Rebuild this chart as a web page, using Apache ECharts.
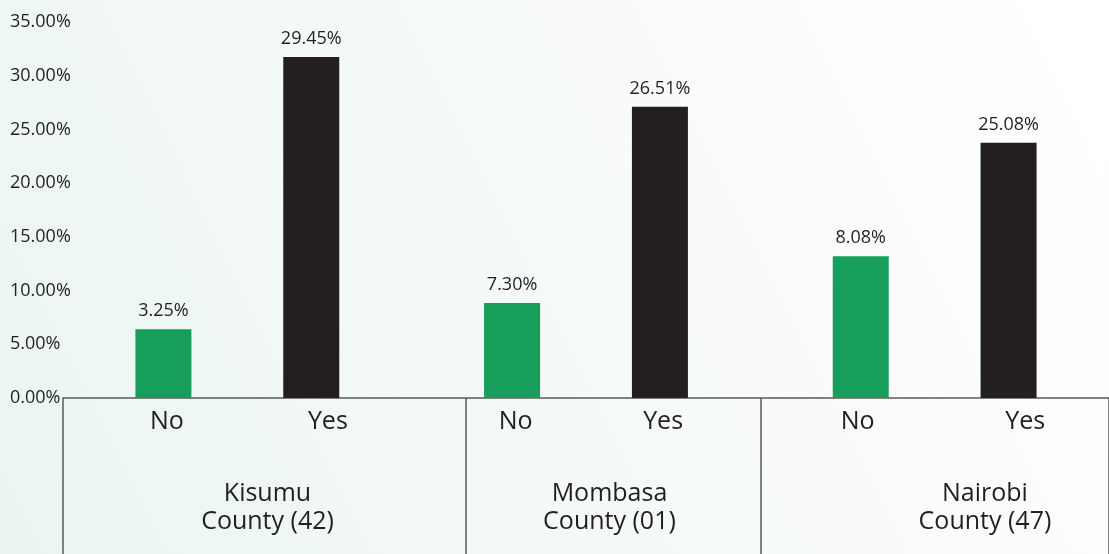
<!DOCTYPE html>
<html>
<head>
<meta charset="utf-8">
<script src="https://cdn.jsdelivr.net/npm/echarts@6/dist/echarts.min.js"></script>
<style>
html,body{margin:0;padding:0;}
#chart{width:1109px;height:554px;}
</style>
</head>
<body>
<div id="chart"></div>
<script>
// ---- data ----
const groups = ['Kisumu\nCounty (42)', 'Mombasa\nCounty (01)', 'Nairobi\nCounty (47)'];
const answers = ['No', 'Yes'];
// bar heights as drawn (percent)
const noValues = [6.4, 8.85, 13.2];
const yesValues = [31.75, 27.1, 23.75];
// printed value labels
const noLabels = ['3.25%', '7.30%', '8.08%'];
const yesLabels = ['29.45%', '26.51%', '25.08%'];
const yTicks = [0, 5, 10, 15, 20, 25, 30, 35];

// ---- layout of the lower category band (slot units) ----
const slotLayout = {
  groupSpans: [60, 44, 52],
  groupLabelSlot: [30, 81, 137],
  noSlot: [15, 67, 118],
  yesSlot: [39, 89, 143]
};
const totalSlots = slotLayout.groupSpans.reduce((a, b) => a + b, 0);
const slotText = new Array(totalSlots).fill('');
const slotKind = new Array(totalSlots).fill('');
groups.forEach((g, i) => {
  slotText[slotLayout.groupLabelSlot[i]] = g; slotKind[slotLayout.groupLabelSlot[i]] = 'g';
  slotText[slotLayout.noSlot[i]] = answers[0]; slotKind[slotLayout.noSlot[i]] = 'a';
  slotText[slotLayout.yesSlot[i]] = answers[1]; slotKind[slotLayout.yesSlot[i]] = 'a';
});
const boundaries = [0];
slotLayout.groupSpans.reduce((acc, s) => { boundaries.push(acc + s); return acc + s; }, 0);

const font = 'Open Sans';
const textColor = '#231f20';
const lineColor = '#5a5a5a';

const chart = echarts.init(document.getElementById('chart'));
chart.setOption({
  backgroundColor: {
    type: 'linear', x: 0, y: 1, x2: 1, y2: 0,
    colorStops: [{offset: 0, color: '#eaf5f0'}, {offset: 0.6, color: '#f8fbfa'}, {offset: 1, color: '#ffffff'}]
  },
  textStyle: {fontFamily: font},
  animation: false,
  grid: {left: 63, right: 0, top: 22, bottom: 156, containLabel: false},
  xAxis: [
    {
      type: 'category', data: groups, show: false
    },
    {
      type: 'category', data: slotText, position: 'bottom',
      axisLine: {show: true, lineStyle: {color: lineColor, width: 1.5}},
      axisTick: {
        show: true, length: 160, alignWithLabel: false,
        interval: (idx) => boundaries.indexOf(idx) >= 0,
        lineStyle: {color: lineColor, width: 1.5}
      },
      axisLabel: {
        interval: 0, margin: 9, color: textColor, fontFamily: font,
        formatter: (value, idx) => {
          if (slotKind[idx] === 'a') return '{a|' + value + '}';
          if (slotKind[idx] === 'g') return '{gap| }\n' + value.split('\n').map(s => '{g|' + s + '}').join('\n');
          return '';
        },
        rich: {
          a: {fontSize: 25, lineHeight: 30, color: textColor, fontFamily: font},
          gap: {fontSize: 10, lineHeight: 73},
          g: {fontSize: 25, lineHeight: 28, color: textColor, fontFamily: font}
        }
      },
      splitLine: {show: false}
    }
  ],
  yAxis: {
    type: 'value', min: 0, max: 35, interval: 5,
    axisLine: {show: false}, axisTick: {show: false}, splitLine: {show: false},
    axisLabel: {
      align: 'left', margin: 53, color: textColor, fontSize: 18, fontFamily: font,
      formatter: (v) => yTicks.indexOf(v) >= 0 ? v.toFixed(2) + '%' : ''
    }
  },
  series: [
    {
      name: answers[0], type: 'bar', xAxisIndex: 0, data: noValues,
      barWidth: 56, barGap: '164%',
      itemStyle: {color: '#169e5a'},
      label: {show: true, position: 'top', distance: 9, color: textColor, fontSize: 18, fontFamily: font,
        formatter: (p) => noLabels[p.dataIndex]}
    },
    {
      name: answers[1], type: 'bar', xAxisIndex: 0, data: yesValues,
      barWidth: 56, barGap: '164%',
      itemStyle: {color: '#231f20'},
      label: {show: true, position: 'top', distance: 9, color: textColor, fontSize: 18, fontFamily: font,
        formatter: (p) => yesLabels[p.dataIndex]}
    }
  ]
});
</script>
</body>
</html>
